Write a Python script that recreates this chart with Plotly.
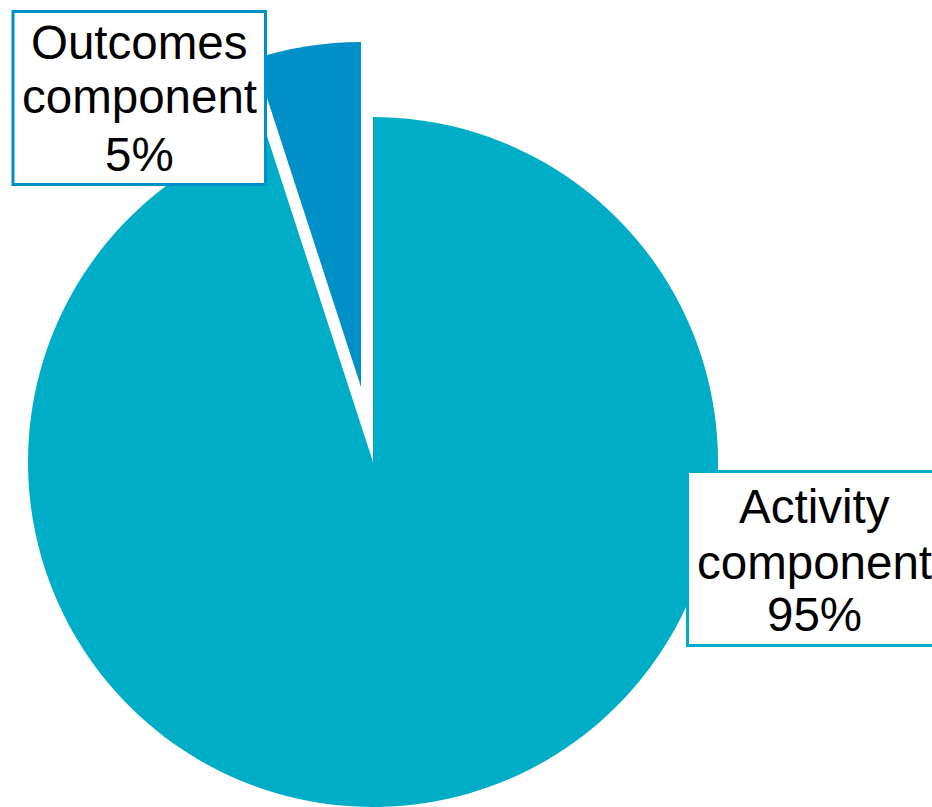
import plotly.graph_objects as go

# ---- data ----
labels = ["Activity component", "Outcomes component"]
values = [95, 5]
colors = ["#00ADC6", "#0090C8"]

W, H = 932, 807
FONT = "Arial, 'Liberation Sans', sans-serif"
CLEAR = "rgba(0,0,0,0)"

# pixel layout (positions only)
R = 345
centers = {"Outcomes component": (361, 387), "Activity component": (373, 462)}
boxes = {"Outcomes component": (13, 11.5, 265.5, 184.5),
         "Activity component": (687.5, 471.5, 960, 645.5)}
line_centers = {"Outcomes component": (139, [43, 97, 154]),
                "Activity component": (814, [506, 562, 614])}


def px(x):
    return x / W


def py(y):
    return 1 - y / H


fig = go.Figure()
for i, lab in enumerate(labels):
    cx, cy = centers[lab]
    cols = [colors[j] if j == i else CLEAR for j in range(len(labels))]
    fig.add_trace(go.Pie(
        labels=labels, values=values, sort=False, direction="clockwise",
        rotation=0, textinfo="none", hoverinfo="label+percent",
        marker=dict(colors=cols, line=dict(width=0)),
        domain=dict(x=[px(cx - R), px(cx + R)], y=[py(cy + R), py(cy - R)]),
        showlegend=False,
    ))

shapes = []
annotations = []
for i, lab in enumerate(labels):
    x0, y0, x1, y1 = boxes[lab]
    shapes.append(dict(type="rect", xref="paper", yref="paper",
                       x0=px(x0), x1=px(x1), y0=py(y1), y1=py(y0),
                       fillcolor="white", line=dict(color=colors[i], width=3),
                       layer="above"))
    lines = lab.split(" ") + [f"{values[i]}%"]
    tx, tys = line_centers[lab]
    for t, ty in zip(lines, tys):
        annotations.append(dict(text=t, x=px(tx), y=py(ty), xref="paper", yref="paper",
                                xanchor="center", yanchor="middle", showarrow=False,
                                font=dict(family=FONT, size=47.5, color="black")))

fig.update_layout(width=W, height=H, margin=dict(l=0, r=0, t=0, b=0),
                  paper_bgcolor="white", plot_bgcolor="white",
                  shapes=shapes, annotations=annotations)
fig.write_html("out.html")
